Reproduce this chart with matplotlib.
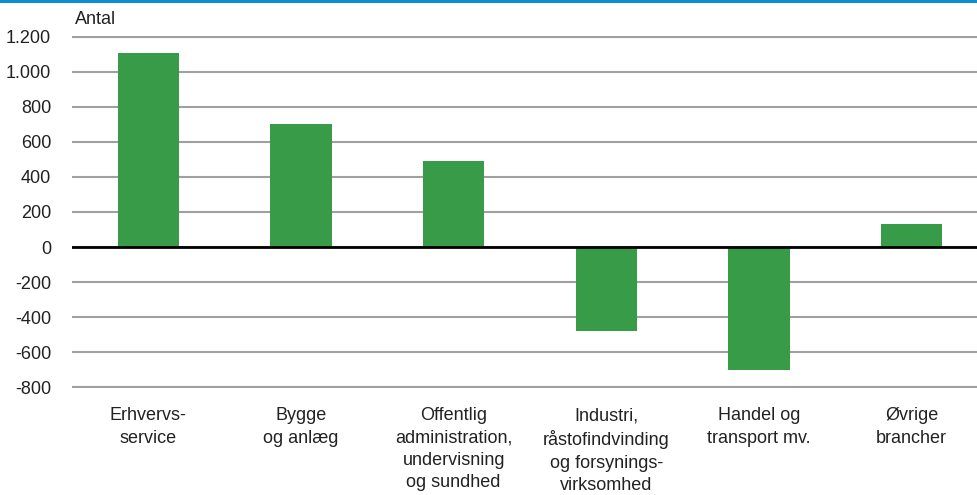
import matplotlib
matplotlib.use('Agg')
import matplotlib.pyplot as plt
from matplotlib.patches import Rectangle

# --- Data ---
categories = ['Erhvervs-\nservice', 'Bygge\nog anlæg',
              'Offentlig\nadministration,\nundervisning\nog sundhed',
              'Industri,\nråstofindvinding\nog forsynings-\nvirksomhed',
              'Handel og\ntransport mv.', 'Øvrige\nbrancher']
values = [1110, 700, 490, -480, -700, 130]
yticks = [-800, -600, -400, -200, 0, 200, 400, 600, 800, 1000, 1200]
ytick_labels = ['-800', '-600', '-400', '-200', '0', '200', '400', '600',
                '800', '1.000', '1.200']

plt.rcParams['font.family'] = ['Liberation Sans', 'DejaVu Sans']

fig = plt.figure(figsize=(9.78, 4.95), dpi=100)
# 0.175 px per unit; pad the limits slightly so the end gridlines are not clipped
ax = fig.add_axes([72 / 978, (495 - 388) / 495, (988 - 72) / 978, 352 / 495])

x = list(range(len(categories)))
ax.bar(x, values, width=0.4, color='#379b48', zorder=3)

ax.set_ylim(-805, 1205)
ax.set_xlim(-0.5, 5.5)
ax.set_yticks(yticks)
ax.set_yticklabels(ytick_labels)
ax.set_xticks(x)
ax.set_xticklabels(categories, linespacing=1.4, va='top')
ax.tick_params(axis='both', length=0, labelsize=13, colors='#222222')
ax.tick_params(axis='y', pad=15)
ax.tick_params(axis='x', pad=14)

ax.grid(axis='y', color='#a0a0a0', linewidth=1.5, zorder=0)
ax.axhline(0, color='black', linewidth=2, zorder=4)
for s in ax.spines.values():
    s.set_visible(False)

fig.text(75 / 978, 1 - 20 / 495, 'Antal', fontsize=13, color='#222222',
         ha='left', va='center')

# blue rule at the top
fig.add_artist(Rectangle((0, 1 - 3 / 495), 1, 3 / 495, transform=fig.transFigure,
                         color='#0a8ccd', linewidth=0))

fig.savefig('out.png', dpi=100)
